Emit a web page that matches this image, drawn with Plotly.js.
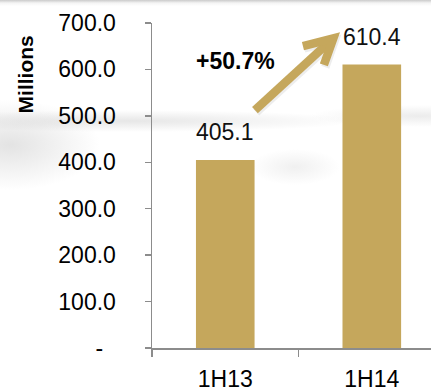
<!DOCTYPE html>
<html>
<head>
<meta charset="utf-8">
<script src="https://cdn.plot.ly/plotly-3.0.1.min.js"></script>
<style>
  html, body { margin: 0; padding: 0; background: #fff; }
  #wrap {
    width: 431px; height: 388px; position: relative; overflow: hidden;
    background:
      linear-gradient(to bottom, rgba(150,150,150,0.5) 0px, rgba(220,220,220,0.3) 3px, rgba(255,255,255,0) 6px),
      radial-gradient(ellipse 90px 45px at 10px 145px, rgba(185,185,185,0.4), rgba(255,255,255,0) 100%),
      radial-gradient(ellipse 230px 11px at 130px 121px, rgba(185,185,185,0.35), rgba(255,255,255,0) 100%),
      radial-gradient(ellipse 110px 11px at 420px 116px, rgba(200,200,200,0.35), rgba(255,255,255,0) 100%),
      radial-gradient(ellipse 45px 18px at 295px 167px, rgba(205,205,205,0.3), rgba(255,255,255,0) 100%),
      #ffffff;
  }
  #chart { width: 431px; height: 388px; }
</style>
</head>
<body>
<div id="wrap"><div id="chart"></div></div>
<script>
const categories = ['1H13', '1H14'];
const revenue = [405.1, 610.4];
const yTickVals = [0, 100, 200, 300, 400, 500, 600, 700];
const yTickText = ['-\u00a0\u00a0', '100.0', '200.0', '300.0', '400.0', '500.0', '600.0', '700.0'];
const growthLabel = '+50.7%';
const yAxisLabel = 'Millions';

const gold = '#C5A75C';
const axisGray = '#8c8c8c';
const fontFam = 'Liberation Sans, Arial, sans-serif';

const trace = {
  type: 'bar',
  x: categories,
  y: revenue,
  marker: { color: gold },
  hoverinfo: 'skip'
};

const valueAnnotations = categories.map((c, i) => ({
  x: c, y: revenue[i], xref: 'x', yref: 'y',
  text: revenue[i].toFixed(1), showarrow: false,
  yanchor: 'bottom', yshift: 13,
  font: { family: fontFam, size: 23, color: '#111' }
}));

// arrow geometry in paper coordinates
const tail = [0.369, 0.732];
const tip = [0.650, 0.9526];
const arm1 = [0.541, 0.929];
const arm2 = [0.616, 0.871];
const shaftEnd = [0.631, 0.938];

function arrowShapes(color, dx, dy) {
  return [
    { type: 'line', xref: 'paper', yref: 'paper',
      x0: tail[0] + dx, y0: tail[1] + dy, x1: shaftEnd[0] + dx, y1: shaftEnd[1] + dy,
      line: { color: color, width: 8.5 } },
    { type: 'path', xref: 'paper', yref: 'paper',
      path: 'M ' + (arm1[0] + dx) + ' ' + (arm1[1] + dy) +
            ' L ' + (tip[0] + dx) + ' ' + (tip[1] + dy) +
            ' L ' + (arm2[0] + dx) + ' ' + (arm2[1] + dy),
      line: { color: color, width: 8.5 } }
  ];
}

const layout = {
  width: 431, height: 388,
  margin: { l: 152, r: 0, t: 23, b: 40, pad: 0 },
  paper_bgcolor: 'rgba(0,0,0,0)',
  plot_bgcolor: 'rgba(0,0,0,0)',
  bargap: 0.6,
  showlegend: false,
  font: { family: fontFam, color: '#000' },
  xaxis: {
    type: 'category',
    range: [-0.5, 1.404],
    tickson: 'boundaries',
    ticks: 'outside', ticklen: 7, tickwidth: 1.5, tickcolor: axisGray,
    showline: true, linecolor: axisGray, linewidth: 1.5,
    showgrid: false, zeroline: false,
    ticklabelstandoff: 10,
    tickfont: { family: fontFam, size: 23, color: '#000' }
  },
  yaxis: {
    range: [0, 700],
    tickmode: 'array', tickvals: yTickVals, ticktext: yTickText,
    ticks: 'outside', ticklen: 6, tickwidth: 1.5, tickcolor: axisGray,
    showline: true, linecolor: axisGray, linewidth: 1.5,
    showgrid: false, zeroline: false,
    ticklabelstandoff: 24,
    tickfont: { family: fontFam, size: 23, color: '#000' }
  },
  shapes: arrowShapes('rgba(0,0,0,0.07)', 0.005, -0.007).concat(arrowShapes(gold, 0, 0)),
  annotations: valueAnnotations.concat([
    { xref: 'paper', yref: 'paper', x: 0.301, y: 0.883,
      text: '<b>' + growthLabel + '</b>', showarrow: false,
      xanchor: 'center', yanchor: 'middle',
      font: { family: fontFam, size: 23, color: '#000' } },
    { xref: 'paper', yref: 'paper', x: -0.455, y: 0.842,
      text: '<b>' + yAxisLabel + '</b>', showarrow: false, textangle: -90,
      xanchor: 'center', yanchor: 'middle',
      font: { family: fontFam, size: 21, color: '#000' } }
  ])
};

Plotly.newPlot('chart', [trace], layout, { displayModeBar: false, staticPlot: true });
</script>
</body>
</html>
